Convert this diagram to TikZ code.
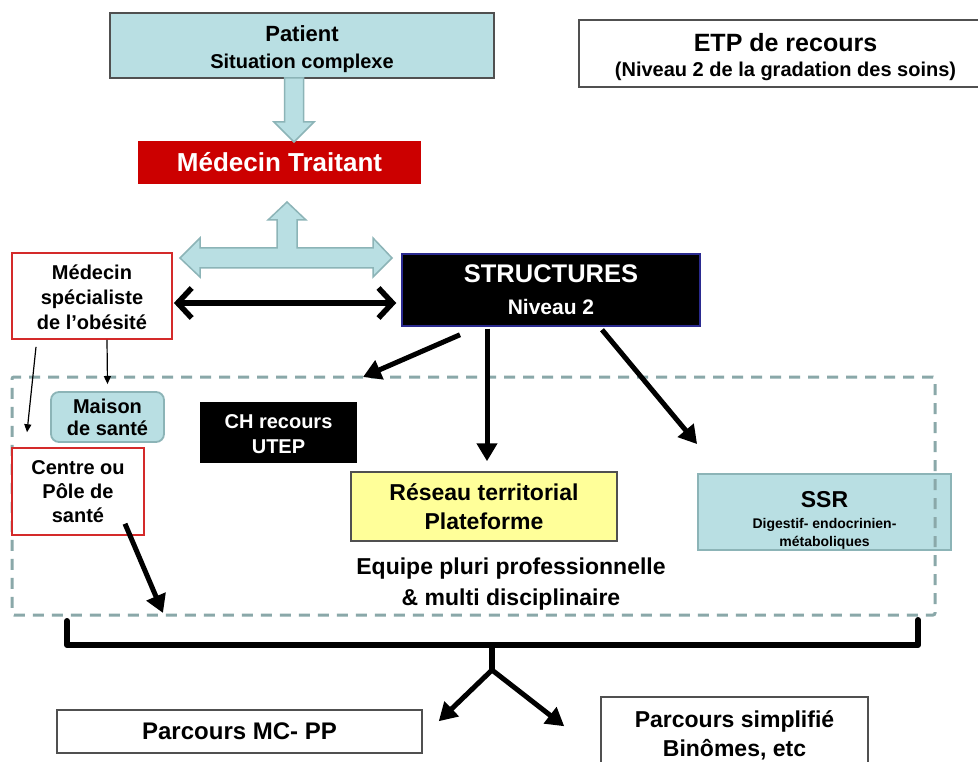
\documentclass[tikz,border=0pt]{standalone}
\usepackage{fontspec}
\setmainfont{Liberation Sans}
\usetikzlibrary{arrows.meta,calc}
\newcommand{\myfs}[2]{\fontsize{#1}{#2}\selectfont}
\definecolor{lblue}{HTML}{B9DFE3}
\definecolor{tealb}{HTML}{8CB4B7}
\definecolor{redb}{HTML}{D42A2A}
\definecolor{redfill}{HTML}{CC0000}
\definecolor{yellowf}{HTML}{FFFF99}
\definecolor{dashc}{HTML}{8AA8A9}
\definecolor{navyb}{HTML}{2A2A90}
\definecolor{greyb}{HTML}{505050}
\begin{document}
\begin{tikzpicture}[x=1pt,y=-1pt,
  every node/.style={inner sep=0pt, align=center},
  fs/.style 2 args={font=\bfseries\myfs{#1}{#2}},
  lbbox/.style={rectangle, fill=lblue, draw=tealb, line width=1.8pt},
  redbox/.style={rectangle, fill=white, draw=redb, line width=1.8pt},
  blkbox/.style={rectangle, fill=black, text=white},
  plainbox/.style={rectangle, fill=white, draw=greyb, line width=1.5pt},
  thickarrow/.style={line width=5pt, -{Triangle[length=18pt,width=20pt]}},
  thinarrow/.style={line width=1.2pt, -{Triangle[length=8pt,width=7pt]}},
  dblarrow/.style={line width=5.5pt, {Straight Barb[length=14pt,width=30pt]}-{Straight Barb[length=14pt,width=30pt]}},
  blockarrow/.style={fill=lblue, draw=tealb, line width=1.5pt, line join=miter},
  teamline/.style={rectangle, draw=dashc, line width=3pt, dash pattern=on 11pt off 8pt, rounded corners=2pt},
  bracket/.style={line width=6pt, line join=round, line cap=round}
]
\useasboundingbox (0,0) rectangle (978,762);
\fill[white] (0,0) rectangle (978,762);

% top boxes
\node[lbbox, draw=greyb, line width=1.5pt, minimum width=384pt, minimum height=65pt, fs={22}{27}] (patient) at (302,45.5)
  {\rule{0pt}{23pt}Patient\\\myfs{20}{27}Situation complexe};
\node[plainbox, minimum width=413pt, minimum height=67pt, fs={25}{25}] (etp) at (785.5,53.5)
  {\rule{0pt}{26pt}ETP de recours\\\myfs{20}{25}(Niveau 2 de la gradation des soins)};
\node[rectangle, fill=redfill, text=white, minimum width=283pt, minimum height=43pt, fs={26}{30}] (mt) at (279.5,162.5)
  {Médecin Traitant};

% block arrows
\draw[blockarrow] (284.5,78) -- (284.5,122) -- (274,122) -- (294,142) -- (314,122) -- (303.5,122) -- (303.5,78) -- cycle;
\draw[blockarrow] (287,202) -- (306,220) -- (297,220) -- (297,248) -- (373,248) -- (373,238) -- (392,258)
  -- (373,277) -- (373,268) -- (200,268) -- (200,277) -- (180,258) -- (200,238) -- (200,248)
  -- (277,248) -- (277,220) -- (268,220) -- cycle;

% middle boxes
\node[blkbox, draw=navyb, line width=1.5pt, minimum width=298pt, minimum height=72pt, fs={25.5}{32}] (struct) at (551,290)
  {STRUCTURES\\\myfs{21}{32}Niveau 2};
\node[redbox, minimum width=160pt, minimum height=86pt, fs={20}{25}] (spec) at (92,296)
  {\rule{0pt}{18pt}Médecin\\spécialiste\\de l’obésité};

% SSR and dashed frame
\node[lbbox, minimum width=253pt, minimum height=76pt, fs={14}{18}] (ssr) at (824.5,512)
  {\myfs{23}{24}\rule{0pt}{32pt}SSR\\[3pt]Digestif- endocrinien-\\métaboliques};
\node[teamline, minimum width=923pt, minimum height=238pt] (team) at (473.5,496) {};
\coordinate (t1) at (363,377);
\coordinate (t2) at (163,613);

\node[lbbox, rounded corners=8pt, minimum width=113pt, minimum height=50pt, fs={20}{22}] (maison) at (107.5,417)
  {Maison\\de santé};
\node[blkbox, minimum width=157pt, minimum height=61pt, fs={20}{25}] (ch) at (278.5,432.5)
  {\rule{0pt}{18pt}CH recours\\UTEP};
\node[redbox, line width=1.5pt, minimum width=132pt, minimum height=87pt, fs={20}{24}] (centre) at (78,491.5)
  {Centre ou\\Pôle de\\santé};
\node[rectangle, fill=yellowf, draw=greyb, line width=1.5pt, minimum width=266pt, minimum height=69pt, fs={23}{29}] (reseau) at (484,506.5)
  {Réseau territorial\\Plateforme};
\node[fs={23}{31}] (equipe) at (511,584.5)
  {Equipe pluri professionnelle\\\& multi disciplinaire};

% bottom boxes
\node[plainbox, minimum width=365pt, minimum height=43pt, fs={24}{28}] (mcpp) at (239.5,731.5)
  {Parcours MC- PP};
\node[plainbox, minimum width=267pt, minimum height=76pt, fs={23}{29}] (simpl) at (734.5,735)
  {Parcours simplifié\\Binômes, etc};

% connectors
\draw[dblarrow] ([xshift=1pt,yshift=-7pt]spec.east) -- ([xshift=-5pt,yshift=-13pt]struct.west);
\draw[thinarrow] ([xshift=-56pt,yshift=-7pt]spec.south) -- ([xshift=-51pt,yshift=15pt]centre.north);
\draw[thinarrow] ([xshift=15pt]spec.south) -- ([yshift=7pt]maison.north);
\draw[thickarrow] ([xshift=-91pt,yshift=-8pt]struct.south) -- (t1);
\draw[thickarrow] ([xshift=-64pt,yshift=-2pt]struct.south) -- ([xshift=3pt,yshift=10pt]reseau.north);
\draw[thickarrow] ([xshift=51pt,yshift=-3pt]struct.south) -- ([yshift=29pt]ssr.north west);
\draw[thickarrow] ([xshift=47pt,yshift=12pt]centre.south) -- (t2);

% bracket
\coordinate (bl) at (67,621);
\coordinate (br) at (918,620);
\coordinate (bj) at (492,645);
\coordinate (bs) at (492,670);
\draw[bracket] (bl) |- (br |- bj) -- (br);
\draw[bracket] (bj) -- (bs);
\draw[thickarrow] (bs) -- ([xshift=16pt,yshift=-12pt]mcpp.north east);
\draw[thickarrow] (bs) -- ([xshift=-36pt,yshift=-30pt]simpl.north west);
\end{tikzpicture}
\end{document}
